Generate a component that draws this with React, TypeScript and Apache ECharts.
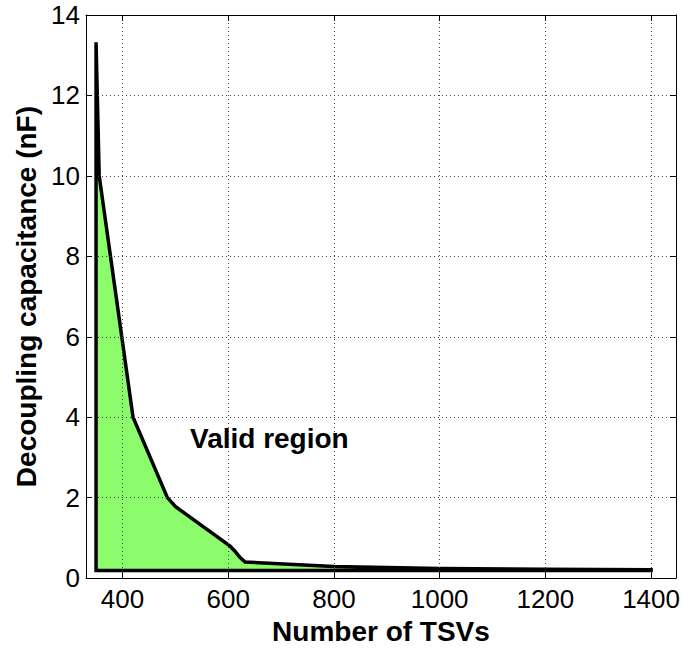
import React, { useEffect, useRef } from "react";
import * as echarts from "echarts";

// Boundary of the valid region (upper curve), x = number of TSVs, y = decap (nF)
const curveTsv = [350, 350, 356, 420, 485, 500, 603, 612, 622, 632, 800, 1000, 1200, 1400];
const curveCap = [0.19, 13.32, 10.0, 4.0, 2.0, 1.78, 0.8, 0.68, 0.52, 0.4, 0.29, 0.24, 0.22, 0.21];
// Lower boundary (constant) closing the region
const baseCap = 0.19;
const baseEndTsv = 1400;

const xTicks = [400, 600, 800, 1000, 1200, 1400];
const xMin = 331;
const xMax = 1447;
const yMin = 0;
const yMax = 14;
const yInterval = 2;

const FONT = "'Liberation Sans', Arial, Helvetica, sans-serif";

export default function App() {
  const ref = useRef<HTMLDivElement>(null);

  useEffect(() => {
    document.body.style.margin = "0";
    if (!ref.current) return;
    const chart = echarts.init(ref.current, null, { renderer: "svg" });

    const gridLine = { show: true, lineStyle: { color: "#444", width: 1, type: [1, 3] as any } };

    const option: any = {
      animation: false,
      backgroundColor: "#fff",
      grid: { left: 86, right: 7, top: 15, bottom: 68, containLabel: false },
      xAxis: [
        {
          type: "value",
          min: xMin,
          max: xMax,
          z: 5,
          name: "Number of TSVs",
          nameLocation: "middle",
          nameGap: 31,
          nameTextStyle: { fontFamily: FONT, fontSize: 28, fontWeight: "bold", color: "#000" },
          axisLine: { show: true, onZero: false, lineStyle: { color: "#000", width: 1 } },
          axisTick: { show: true, inside: true, length: 6, customValues: xTicks, lineStyle: { color: "#000" } },
          axisLabel: {
            customValues: xTicks,
            formatter: (v: number) => String(v),
            fontFamily: FONT,
            fontSize: 26,
            color: "#000",
            margin: 8,
          },
          splitLine: gridLine,
        },
        {
          type: "value",
          position: "top",
          min: xMin,
          max: xMax,
          z: 5,
          axisLine: { show: true, onZero: false, lineStyle: { color: "#000", width: 1 } },
          axisTick: { show: true, inside: true, length: 6, customValues: xTicks, lineStyle: { color: "#000" } },
          axisLabel: { show: false, customValues: xTicks },
          splitLine: { show: false },
        },
      ],
      yAxis: [
        {
          type: "value",
          min: yMin,
          max: yMax,
          interval: yInterval,
          z: 5,
          name: "Decoupling capacitance (nF)",
          nameLocation: "middle",
          nameGap: 46,
          nameTextStyle: { fontFamily: FONT, fontSize: 28, fontWeight: "bold", color: "#000" },
          axisLine: { show: true, onZero: false, lineStyle: { color: "#000", width: 1 } },
          axisTick: { show: true, inside: true, length: 6, lineStyle: { color: "#000" } },
          axisLabel: { fontFamily: FONT, fontSize: 26, color: "#000", margin: 6 },
          splitLine: gridLine,
        },
        {
          type: "value",
          position: "right",
          min: yMin,
          max: yMax,
          interval: yInterval,
          z: 5,
          axisLine: { show: true, onZero: false, lineStyle: { color: "#000", width: 1 } },
          axisTick: { show: true, inside: true, length: 6, lineStyle: { color: "#000" } },
          axisLabel: { show: false },
          splitLine: { show: false },
        },
      ],
      series: [
        {
          type: "custom",
          xAxisIndex: 0,
          yAxisIndex: 0,
          data: [[curveTsv[0], curveCap[0]]],
          renderItem: (_params: any, api: any) => {
            const pts: number[][] = [];
            for (let i = 0; i < curveTsv.length; i++) {
              pts.push(api.coord([curveTsv[i], curveCap[i]]));
            }
            pts.push(api.coord([baseEndTsv, baseCap]));
            return {
              type: "polygon",
              shape: { points: pts },
              style: {
                fill: "#8cfb6c",
                stroke: "#000",
                lineWidth: 3.5,
                lineJoin: "miter",
              },
            };
          },
        },
      ],
      graphic: [
        {
          type: "text",
          left: 190,
          top: 424,
          z: 10,
          style: {
            text: "Valid region",
            fontFamily: FONT,
            fontSize: 28,
            fontWeight: "bold",
            fill: "#000",
          },
        },
      ],
    };

    chart.setOption(option);
    return () => chart.dispose();
  }, []);

  return <div ref={ref} style={{ width: 683, height: 650 }} />;
}
